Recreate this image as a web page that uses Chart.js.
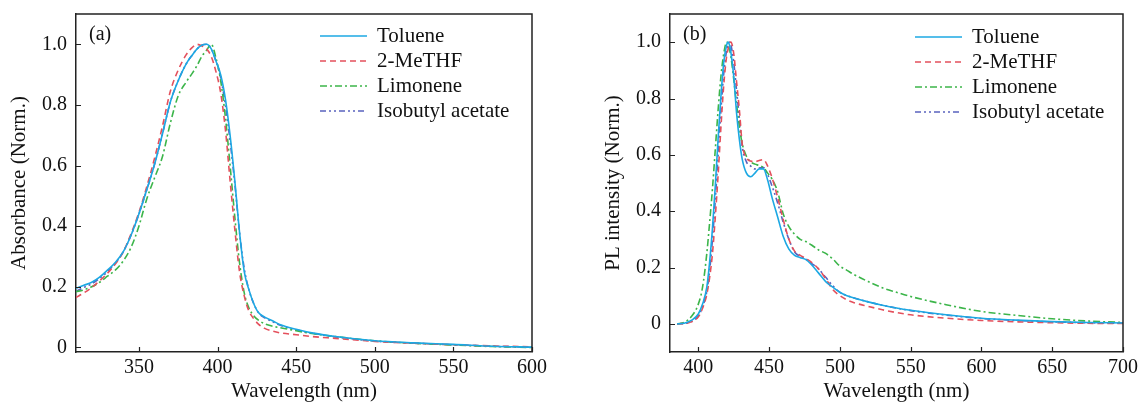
<!DOCTYPE html>
<html><head><meta charset="utf-8">
<script src="https://cdn.jsdelivr.net/npm/chart.js@4.4.1/dist/chart.umd.min.js"></script>
<style>
html,body{margin:0;padding:0;background:#fff;}
#wrap{position:relative;width:1141px;height:404px;overflow:hidden;}
canvas{position:absolute;top:0;}
#ca{left:0;width:570px;height:404px;}
#cb{left:570px;width:571px;height:404px;}
</style></head><body>
<div id="wrap"><canvas id="ca" width="570" height="404"></canvas><canvas id="cb" width="571" height="404"></canvas></div>
<script>
// ---------- DATA ----------
const seriesNames = ['Toluene', '2-MeTHF', 'Limonene', 'Isobutyl acetate'];

// Panel (a): absorbance
const absWavelength = [310,315,320,325,330,335,340,345,350,355,360,365,370,375,380,384,387,390,393,396,399,402,405,408,411,414,417,420,423,426,430,435,440,450,460,475,500,525,550,575,600];
const absToluene  = [0.195,0.205,0.215,0.232,0.255,0.28,0.315,0.37,0.44,0.52,0.605,0.705,0.81,0.88,0.935,0.965,0.985,0.997,1.0,0.985,0.945,0.90,0.82,0.70,0.55,0.38,0.25,0.19,0.145,0.115,0.10,0.088,0.075,0.06,0.048,0.036,0.022,0.015,0.01,0.004,0.001];
const absMeTHF    = [0.165,0.18,0.198,0.22,0.245,0.275,0.315,0.375,0.445,0.53,0.625,0.73,0.845,0.915,0.965,0.99,1.0,0.995,0.985,0.96,0.91,0.84,0.72,0.55,0.39,0.25,0.17,0.12,0.095,0.077,0.063,0.054,0.048,0.042,0.036,0.03,0.02,0.014,0.009,0.005,0.002];
const absLimonene = [0.184,0.19,0.20,0.215,0.235,0.255,0.285,0.33,0.40,0.49,0.56,0.63,0.74,0.83,0.875,0.905,0.93,0.96,0.98,1.0,0.955,0.88,0.76,0.60,0.43,0.28,0.18,0.13,0.105,0.09,0.078,0.07,0.065,0.055,0.046,0.036,0.022,0.014,0.008,0.003,0.0];
const absIsobutyl = [0.185,0.198,0.21,0.228,0.25,0.278,0.315,0.37,0.44,0.52,0.605,0.705,0.81,0.88,0.935,0.965,0.985,0.997,1.0,0.985,0.945,0.89,0.80,0.68,0.54,0.38,0.26,0.19,0.145,0.115,0.098,0.085,0.073,0.058,0.047,0.035,0.021,0.014,0.009,0.004,0.001];
const absXTicks = [350,400,450,500,550,600];
const absYTicks = [0,0.2,0.4,0.6,0.8,1.0];

// Panel (b): PL
const plWavelength = [385,390,395,400,403,406,408,410,412,414,416,418,420,421,422,423,425,427,429,431,434,437,440,443,446,449,452,456,460,464,468,472,476,480,485,490,495,500,505,510,520,530,540,550,575,600,625,650,675,700];
const plToluene  = [0,0.002,0.012,0.035,0.07,0.13,0.22,0.34,0.49,0.66,0.81,0.93,0.99,1.0,0.99,0.965,0.88,0.75,0.655,0.585,0.535,0.522,0.535,0.55,0.55,0.51,0.45,0.38,0.31,0.265,0.243,0.235,0.228,0.21,0.18,0.15,0.13,0.112,0.10,0.092,0.078,0.066,0.056,0.048,0.032,0.02,0.013,0.008,0.005,0.003];
const plMeTHF    = [0,0.001,0.007,0.025,0.055,0.105,0.165,0.25,0.38,0.53,0.70,0.85,0.95,0.975,0.995,1.0,0.96,0.86,0.76,0.64,0.59,0.578,0.575,0.58,0.583,0.56,0.52,0.45,0.37,0.30,0.258,0.243,0.232,0.218,0.195,0.16,0.122,0.10,0.085,0.075,0.062,0.05,0.04,0.032,0.02,0.012,0.007,0.004,0.002,0.001];
const plLimonene = [0,0.005,0.025,0.07,0.13,0.25,0.36,0.48,0.62,0.76,0.88,0.96,1.0,0.995,0.975,0.95,0.87,0.78,0.70,0.64,0.595,0.575,0.567,0.562,0.555,0.535,0.515,0.47,0.39,0.345,0.318,0.30,0.292,0.28,0.262,0.25,0.23,0.205,0.19,0.175,0.15,0.128,0.112,0.097,0.068,0.044,0.03,0.018,0.01,0.005];
const plIsobutyl = [0,0.001,0.008,0.028,0.06,0.115,0.19,0.30,0.44,0.60,0.76,0.89,0.97,0.99,1.0,0.99,0.93,0.83,0.73,0.63,0.575,0.56,0.55,0.553,0.555,0.53,0.49,0.43,0.36,0.30,0.255,0.24,0.23,0.215,0.195,0.165,0.135,0.112,0.10,0.092,0.078,0.066,0.056,0.047,0.031,0.019,0.012,0.007,0.004,0.002];
const plXTicks = [400,450,500,550,600,650,700];
const plYTicks = [0,0.2,0.4,0.6,0.8,1.0];

// ---------- STYLE ----------
const FONT = "'Liberation Serif', 'Times New Roman', serif";
const AXIS = '#222';
const styles = [
  {color:'#1CA8E3', dash:[]},
  {color:'#E4505C', dash:[6,4]},
  {color:'#3CB54A', dash:[7,3,2,3]},
  {color:'#5A63BE', dash:[6,3,2,3,2,3]}
];

const framePlugin = {
  id: 'frame',
  afterDraw(chart, args, o) {
    const {ctx, chartArea: a, scales} = chart;
    ctx.save();
    ctx.strokeStyle = AXIS; ctx.lineWidth = 1.5; ctx.setLineDash([]);
    ctx.beginPath();
    ctx.moveTo(a.left, a.top); ctx.lineTo(a.right, a.top); ctx.lineTo(a.right, a.bottom);
    ctx.stroke();
    ctx.lineWidth = 1.2;
    ctx.beginPath();
    scales.x.ticks.forEach(t => { const px = Math.round(scales.x.getPixelForValue(t.value)) + 0.5; ctx.moveTo(px, a.bottom); ctx.lineTo(px, a.bottom - 5); });
    scales.y.ticks.forEach(t => { const py = Math.round(scales.y.getPixelForValue(t.value)) + 0.5; ctx.moveTo(a.left, py); ctx.lineTo(a.left + 5, py); });
    ctx.stroke();
    // panel label
    ctx.font = '20px ' + FONT; ctx.fillStyle = '#111'; ctx.textBaseline = 'middle'; ctx.textAlign = 'left';
    ctx.fillText(o.label, a.left + o.labelDx, o.labelY);
    // legend
    ctx.font = '21px ' + FONT;
    chart.data.datasets.forEach((ds, i) => {
      const y = o.legY + i * o.legRow;
      ctx.strokeStyle = ds.borderColor; ctx.lineWidth = 1.6; ctx.setLineDash(ds.borderDash);
      ctx.beginPath(); ctx.moveTo(o.legX, y); ctx.lineTo(o.legX + o.legLen, y); ctx.stroke();
      ctx.setLineDash([]);
      ctx.fillStyle = '#111';
      ctx.fillText(ds.label, o.legX + o.legText, y);
    });
    ctx.restore();
  }
};

function makeChart(id, xs, ys, xr, yr, xTicks, yTicks, yTitle, lay) {
  const datasets = ys.map((arr, i) => ({
    label: seriesNames[i],
    data: xs.map((x, k) => ({x, y: arr[k]})),
    borderColor: styles[i].color,
    borderDash: styles[i].dash,
    borderWidth: 1.6,
    pointRadius: 0,
    fill: false,
    cubicInterpolationMode: 'monotone'
  }));
  return new Chart(document.getElementById(id), {
    type: 'line',
    data: {datasets},
    options: {
      responsive: false, animation: false, devicePixelRatio: 1,
      layout: {padding: {left: 0, right: lay.right, top: 14, bottom: 0}},
      plugins: {legend: {display: false}, tooltip: {enabled: false},
        frame: {label: lay.label, labelDx: 13, labelY: 35, legX: lay.legX, legY: lay.legY, legRow: 25, legLen: 47, legText: 57}},
      scales: {
        x: {
          type: 'linear', min: xr[0], max: xr[1],
          afterFit: s => { s.height = 52; s.paddingLeft = 0; s.paddingRight = 0; },
          afterBuildTicks: s => { s.ticks = xTicks.map(v => ({value: v})); },
          grid: {display: true, drawOnChartArea: false, drawTicks: false},
          border: {display: true, color: AXIS, width: 1.5},
          ticks: {autoSkip: false, maxRotation: 0, padding: 4, color: '#111', font: {family: FONT, size: 20}, callback: v => String(v)},
          title: {display: true, text: 'Wavelength (nm)', color: '#111', font: {family: FONT, size: 21}, padding: {top: 0, bottom: 0}}
        },
        y: {
          type: 'linear', min: yr[0], max: yr[1],
          afterFit: s => { s.width = lay.yWidth; s.paddingTop = 0; s.paddingBottom = 0; },
          afterBuildTicks: s => { s.ticks = yTicks.map(v => ({value: v})); },
          grid: {display: true, drawOnChartArea: false, drawTicks: false},
          border: {display: true, color: AXIS, width: 1.5},
          ticks: {autoSkip: false, padding: 9, color: '#111', font: {family: FONT, size: 20}, callback: v => (v === 0 ? '0' : v.toFixed(1))},
          title: {display: true, text: yTitle, color: '#111', font: {family: FONT, size: 21}, padding: {top: lay.yTitlePad, bottom: 0}}
        }
      }
    },
    plugins: [framePlugin]
  });
}

makeChart('ca', absWavelength, [absToluene, absMeTHF, absLimonene, absIsobutyl], [310, 600], [-0.015, 1.1], absXTicks, absYTicks, 'Absorbance (Norm.)',
  {right: 38, yWidth: 76, yTitlePad: 7, label: '(a)', legX: 320, legY: 36});
makeChart('cb', plWavelength, [plToluene, plMeTHF, plLimonene, plIsobutyl], [380, 700], [-0.1, 1.1], plXTicks, plYTicks, 'PL intensity (Norm.)',
  {right: 18, yWidth: 100, yTitlePad: 31, label: '(b)', legX: 345, legY: 37});
</script>
</body></html>
